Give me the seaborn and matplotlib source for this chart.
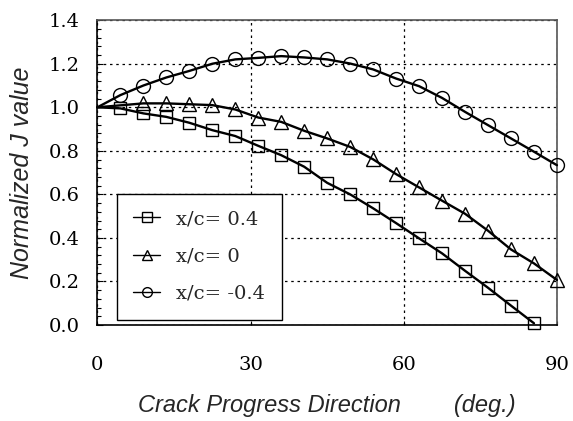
import matplotlib
matplotlib.use("Agg")
import matplotlib.pyplot as plt
import seaborn as sns
import pandas as pd
from matplotlib.ticker import MultipleLocator

# ---- data ----
start_angle = 0.0
start_value = 1.0

angles_sq = [4.5, 9, 13.5, 18, 22.5, 27, 31.5, 36, 40.5, 45, 49.5, 54, 58.5,
             63, 67.5, 72, 76.5, 81, 85.5]
j_pos04 = [0.995, 0.972, 0.956, 0.929, 0.895, 0.868, 0.823, 0.780, 0.727, 0.653,
           0.600, 0.536, 0.468, 0.398, 0.329, 0.249, 0.171, 0.089, 0.008]

angles_tri = [9, 13.5, 18, 22.5, 27, 31.5, 36, 40.5, 45, 49.5, 54, 58.5,
              63, 67.5, 72, 76.5, 81, 85.5, 90]
j_zero = [1.018, 1.018, 1.014, 1.010, 0.990, 0.953, 0.933, 0.892, 0.857, 0.818,
          0.761, 0.693, 0.632, 0.571, 0.511, 0.433, 0.347, 0.283, 0.207]

angles_cir = [4.5, 9, 13.5, 18, 22.5, 27, 31.5, 36, 40.5, 45, 49.5, 54, 58.5,
              63, 67.5, 72, 76.5, 81, 85.5, 90]
j_neg04 = [1.056, 1.100, 1.137, 1.167, 1.200, 1.220, 1.227, 1.235, 1.229, 1.220,
           1.201, 1.174, 1.132, 1.097, 1.043, 0.979, 0.918, 0.857, 0.796, 0.734]

labels = ["x/c= 0.4", "x/c= 0", "x/c= -0.4"]
markers = ["s", "^", "o"]

x_ticks = [0, 30, 60, 90]
y_ticks = [0.0, 0.2, 0.4, 0.6, 0.8, 1.0, 1.2, 1.4]

# ---- figure ----
sns.set_theme(style="white")
plt.rcParams["font.family"] = ["DejaVu Serif"]

fig = plt.figure(figsize=(5.73, 4.21), dpi=100)
ax = fig.add_axes([0.170, 0.228, 0.802, 0.724])

series = [(angles_sq, j_pos04), (angles_tri, j_zero), (angles_cir, j_neg04)]
msizes = [8.5, 10, 10]
for (xs, ys), lab, mk, ms in zip(series, labels, markers, msizes):
    df = pd.DataFrame({"angle": [start_angle] + list(xs),
                       "J": [start_value] + list(ys)})
    sns.lineplot(data=df, x="angle", y="J", ax=ax, color="black", lw=1.7,
                 marker=mk, markevery=slice(1, None), markersize=ms,
                 markerfacecolor="none", markeredgecolor="black",
                 markeredgewidth=1.0, label=lab, sort=True, clip_on=False,
                 zorder=3)

ax.set_xlim(0, 90)
ax.set_ylim(0, 1.4)
ax.set_xticks(x_ticks)
ax.set_yticks(y_ticks)
ax.set_xticklabels([str(t) for t in x_ticks])
ax.set_yticklabels([f"{t:.1f}" for t in y_ticks])
ax.yaxis.set_minor_locator(MultipleLocator(0.04))

ax.tick_params(axis="both", which="both", direction="in", colors="black",
               labelsize=14)
ax.tick_params(axis="y", which="major", length=4, width=0.8, pad=13, left=True)
ax.tick_params(axis="y", which="minor", length=3, width=0.8, left=True)
ax.tick_params(axis="x", which="major", length=3, width=0.8, pad=22, bottom=True)

ax.grid(True, which="major", color="black", linestyle=(0, (2, 3)), linewidth=0.9)
for s in ["left", "bottom"]:
    ax.spines[s].set_color("black")
    ax.spines[s].set_linewidth(1.2)
for s in ["top", "right"]:
    ax.spines[s].set_color("#555555")
    ax.spines[s].set_linewidth(1.2)

ax.set_xlabel("Crack Progress Direction        (deg.)", family="Liberation Sans",
              style="italic", fontsize=17, labelpad=15)
ax.set_ylabel("Normalized J value", family="Liberation Sans", style="italic",
              fontsize=18, labelpad=10)

leg = ax.legend(loc="lower left", bbox_to_anchor=(0.042, 0.018), frameon=True,
                fancybox=False, edgecolor="black", framealpha=1,
                fontsize=14, handlelength=1.4, handletextpad=0.8,
                labelspacing=1.0, borderpad=0.85, borderaxespad=0)
leg.get_frame().set_linewidth(1.0)
for h in leg.legend_handles:
    h.set_markersize(7)
    h.set_linewidth(1.0)

fig.savefig("out.png", dpi=100)
